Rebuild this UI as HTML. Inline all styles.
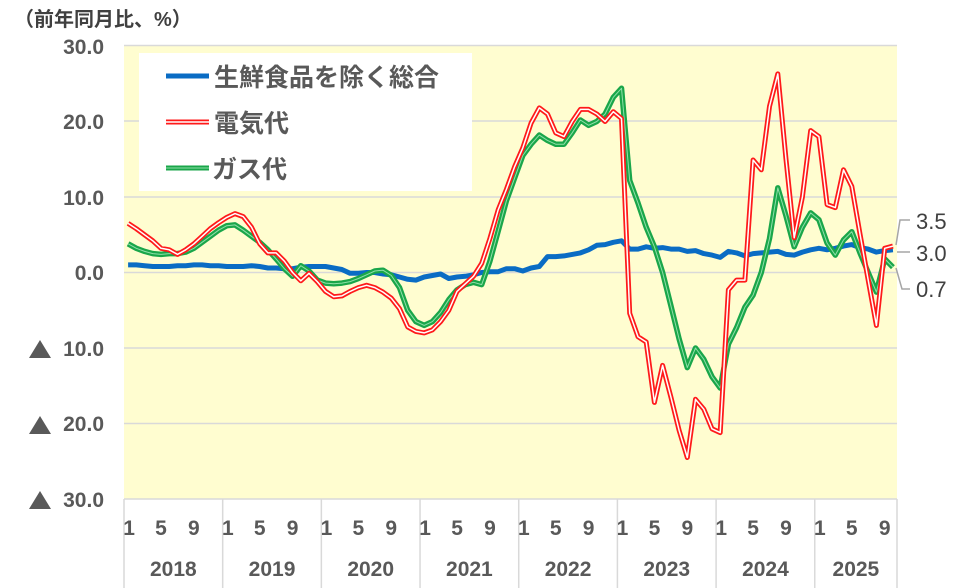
<!DOCTYPE html>
<html><head><meta charset="utf-8">
<style>
html,body{margin:0;padding:0;background:#fff;width:956px;height:588px;overflow:hidden}
svg{display:block}
text{font-family:"Liberation Sans","Noto Sans CJK JP",sans-serif}
</style></head>
<body>
<svg id="c" width="956" height="588" viewBox="0 0 956 588" xmlns="http://www.w3.org/2000/svg">
<rect x="124" y="45.5" width="773" height="453.5" fill="#fffdd0"/>
<g stroke="#d9d9d9" stroke-width="1.5">
<line x1="124" y1="45.5" x2="897" y2="45.5"/>
<line x1="124" y1="121" x2="897" y2="121"/>
<line x1="124" y1="197" x2="897" y2="197"/>
<line x1="124" y1="272.5" x2="897" y2="272.5"/>
<line x1="124" y1="348" x2="897" y2="348"/>
<line x1="124" y1="423.5" x2="897" y2="423.5"/>
<line x1="124" y1="499" x2="897" y2="499"/>
</g>
<g id="yr" stroke="#d9d9d9" stroke-width="1.5"></g>
<g fill="#595959" font-size="21" font-weight="bold" text-anchor="end">
<text x="104" y="54">30.0</text>
<text x="104" y="129">20.0</text>
<text x="104" y="205">10.0</text>
<text x="104" y="280">0.0</text>
<text x="104" y="356">10.0</text>
<text x="104" y="431">20.0</text>
<text x="104" y="507">30.0</text>
</g>
<g fill="#595959">
<polygon points="29,358 40,340 51,358"/>
<polygon points="29,434 40,416 51,434"/>
<polygon points="29,509 40,491 51,509"/>
</g>
<text x="14" y="26" font-size="20" font-weight="bold" fill="#404040">（前年同月比、%）</text>
<g id="xl" fill="#595959" font-size="21" font-weight="bold" text-anchor="middle"></g>
<rect x="139" y="53" width="333" height="138" fill="#fff"/>
<line x1="166" y1="76" x2="209" y2="76" stroke="#0a6cc4" stroke-width="5"/>
<line x1="166" y1="122" x2="209" y2="122" stroke="#ff1a1a" stroke-width="5"/>
<line x1="166" y1="122" x2="209" y2="122" stroke="#fff" stroke-width="1.5"/>
<line x1="166" y1="168" x2="209" y2="168" stroke="#1aa64a" stroke-width="5"/>
<line x1="166" y1="168" x2="209" y2="168" stroke="#8fe0a8" stroke-width="1"/>
<g fill="#595959" font-size="25" font-weight="bold">
<text x="214" y="86">生鮮食品を除く総合</text>
<text x="214" y="132">電気代</text>
<text x="212" y="178">ガス代</text>
</g>
<g id="series"></g>
<g stroke="#a6a6a6" stroke-width="1.5" fill="none">
<polyline points="896,245 900,220 910,220"/>
<polyline points="897,252 910,252"/>
<polyline points="896,268 902,289 910,289"/>
</g>
<g fill="#404040" font-size="22">
<text x="916" y="229">3.5</text>
<text x="916" y="261">3.0</text>
<text x="916" y="297">0.7</text>
</g>
</svg>
<script>
var NS="http://www.w3.org/2000/svg";
var blue=[1.0,1.0,0.9,0.8,0.8,0.8,0.9,0.9,1.0,1.0,0.9,0.9,
0.8,0.8,0.8,0.9,0.8,0.6,0.6,0.5,0.5,0.7,0.8,0.8,
0.8,0.6,0.4,-0.1,-0.1,0.0,0.0,-0.2,-0.3,-0.6,-0.9,-1.0,
-0.6,-0.4,-0.2,-0.8,-0.6,-0.5,-0.3,0.0,0.1,0.1,0.5,0.5,
0.2,0.6,0.8,2.1,2.1,2.2,2.4,2.6,3.0,3.6,3.7,4.0,
4.2,3.1,3.1,3.4,3.2,3.3,3.1,3.1,2.8,2.9,2.5,2.3,
2.0,2.8,2.6,2.2,2.5,2.6,2.7,2.8,2.4,2.3,2.7,3.0,
3.2,3.0,3.2,3.5,3.7,3.3,3.1,2.7,2.9,3.0];
var red=[6.5,5.8,5.0,4.2,3.2,3.0,2.4,3.0,3.8,4.8,5.8,6.6,
7.3,7.8,7.4,6.0,3.8,2.6,2.6,1.5,0.0,-1.1,-0.1,-1.2,
-2.5,-3.2,-3.1,-2.5,-2.0,-1.7,-2.0,-2.6,-3.4,-4.8,-7.2,-7.8,
-8.0,-7.6,-6.5,-5.0,-2.5,-1.5,-0.5,1.2,4.5,8.3,11.0,14.0,
16.5,19.8,21.8,21.0,18.5,18.0,20.0,21.6,21.6,21.0,20.0,21.3,
20.4,-5.4,-8.5,-9.2,-17.2,-12.3,-16.5,-20.9,-24.5,-16.8,-18.1,-20.7,
-21.2,-2.3,-1.0,-1.0,14.9,13.6,22.0,26.3,15.0,4.6,10.0,18.8,
18.0,9.0,8.6,13.6,11.4,5.1,-1.0,-7.0,3.2,3.5];
var green=[3.8,3.2,2.8,2.5,2.4,2.5,2.5,2.7,3.2,4.0,4.8,5.6,
6.2,6.3,5.6,4.8,4.0,3.0,1.8,0.5,-0.5,0.9,0.2,-1.0,
-1.4,-1.5,-1.4,-1.2,-0.8,-0.3,0.2,0.3,-0.4,-2.0,-5.0,-6.5,
-7.0,-6.5,-5.3,-3.6,-2.3,-1.6,-1.3,-1.6,1.5,5.5,9.5,12.5,
15.5,17.0,18.2,17.5,17.0,17.0,18.5,20.2,19.5,20.0,21.0,23.2,
24.4,12.2,9.2,6.0,3.4,0.0,-4.4,-8.8,-12.6,-10.0,-11.5,-13.8,
-15.3,-9.5,-7.3,-4.6,-3.0,0.0,4.5,11.2,7.5,3.4,6.0,7.9,
7.0,3.9,2.3,4.3,5.4,2.6,0.0,-2.6,1.8,0.7];
var mw=773/94;
function X(i){return 124+(i+0.5)*mw;}
function Y(v){return 272.5-v*7.55;}
function pts(a){return a.map(function(v,i){return X(i).toFixed(1)+","+Y(v).toFixed(1);}).join(" ");}
var g=document.getElementById("series");
function pl(a,col,w){var p=document.createElementNS(NS,"polyline");p.setAttribute("points",pts(a));p.setAttribute("fill","none");p.setAttribute("stroke",col);p.setAttribute("stroke-width",w);p.setAttribute("stroke-linejoin","round");g.appendChild(p);}
pl(blue,"#0a6cc4",5);
pl(green,"#1aa64a",5.5);pl(green,"#8fe0a8",1);
pl(red,"#ff1a1a",5);pl(red,"#fff",1.5);
var yr=document.getElementById("yr"),xl=document.getElementById("xl");
for(var y=0;y<8;y++){
 var x0=124+y*12*mw;
 var l=document.createElementNS(NS,"line");l.setAttribute("x1",x0);l.setAttribute("x2",x0);l.setAttribute("y1",499);l.setAttribute("y2",588);yr.appendChild(l);
 [0,4,8].forEach(function(m){if(y*12+m<94){var t=document.createElementNS(NS,"text");t.setAttribute("x",X(y*12+m)+(m==0?1:0));t.setAttribute("y",535);t.textContent=String(m+1);xl.appendChild(t);}});
 var cx=y<7?x0+6*mw:(x0+897)/2;
 var t=document.createElementNS(NS,"text");t.setAttribute("x",cx);t.setAttribute("y",576);t.textContent=String(2018+y);xl.appendChild(t);
}
var l=document.createElementNS(NS,"line");l.setAttribute("x1",897);l.setAttribute("x2",897);l.setAttribute("y1",499);l.setAttribute("y2",588);yr.appendChild(l);
</script>
</body></html>
